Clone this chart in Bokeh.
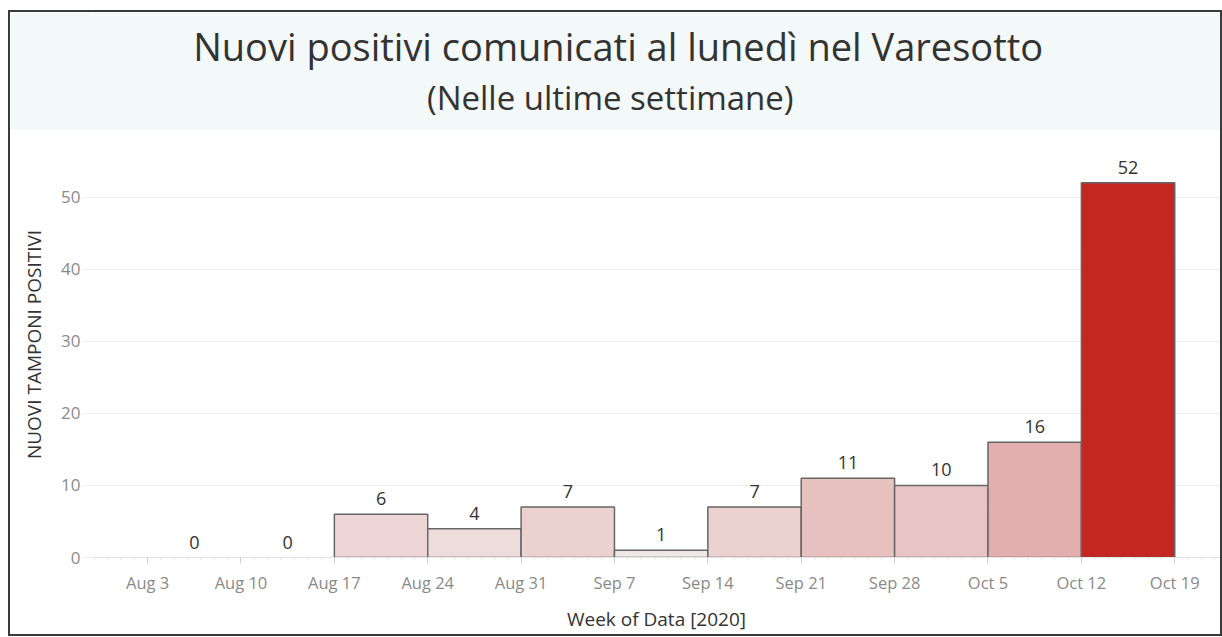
import numpy as np
from bokeh.plotting import figure
from bokeh.layouts import column
from bokeh.models import ColumnDataSource, LinearColorMapper, FixedTicker, Range1d
from bokeh.core.properties import value
from bokeh.embed import file_html
from bokeh.resources import INLINE

# ---- data ----
weeks = ["Aug 3", "Aug 10", "Aug 17", "Aug 24", "Aug 31", "Sep 7",
         "Sep 14", "Sep 21", "Sep 28", "Oct 5", "Oct 12"]
tick_labels = weeks + ["Oct 19"]
values = [0, 0, 6, 4, 7, 1, 7, 11, 10, 16, 52]

title_text = "Nuovi positivi comunicati al lunedì nel Varesotto"
subtitle_text = "(Nelle ultime settimane)"
y_title = "NUOVI TAMPONI POSITIVI"
x_title = "Week of Data [2020]"

FONT = "Open Sans"
W = 1210
LEFT = 82

# ---- colour ramp (style) ----
def hex2rgb(h):
    h = h.lstrip("#")
    return tuple(int(h[i:i + 2], 16) for i in (0, 2, 4))

lo, hi = hex2rgb("#f1ebeb"), hex2rgb("#c42622")
palette = []
for k in range(256):
    t = k / 255
    palette.append("#%02x%02x%02x" % tuple(int(round(lo[c] + (hi[c] - lo[c]) * t)) for c in range(3)))
mapper = LinearColorMapper(palette=palette, low=0, high=max(values))

# ---- title band (frame matches the chart frame: page x 92..1220) ----
tf = figure(width=W, height=118, x_range=Range1d(0, 1), y_range=Range1d(0, 1),
            output_backend="svg", toolbar_location=None,
            min_border_left=LEFT, min_border_right=0, min_border_top=0, min_border_bottom=0)
tf.axis.visible = False
tf.grid.visible = False
tf.outline_line_color = None
tf.background_fill_color = "#f3f8f8"
tf.border_fill_color = "#f3f8f8"
tf.text(x=[0.466], y=[0.72], text=[title_text], text_font=value(FONT),
        text_font_size="38px", text_color="#333333", text_align="center",
        text_baseline="middle")
tf.text(x=[0.459], y=[0.28], text=[subtitle_text], text_font=value(FONT),
        text_font_size="33px", text_color="#333333", text_align="center",
        text_baseline="middle")

# ---- main chart ----
idx = np.arange(len(values))
src = ColumnDataSource(dict(
    left=idx, right=idx + 1, top=values, mid=idx + 0.5,
    label=[str(v) for v in values],
    lalpha=[0.0 if v == 0 else 1.0 for v in values],
))

p = figure(width=W, height=504, x_range=Range1d(-0.59, 11.49), y_range=Range1d(0, 59.1),
           output_backend="svg", toolbar_location=None,
           min_border_left=LEFT, min_border_right=0, min_border_top=1, min_border_bottom=76)
p.outline_line_color = None
p.background_fill_color = "white"
p.border_fill_color = "white"

p.quad(left="left", right="right", bottom=0, top="top", source=src,
       fill_color={"field": "top", "transform": mapper},
       line_color="#666666", line_width=1.5, line_alpha="lalpha")
p.text(x="mid", y="top", text="label", source=src, text_font=value(FONT),
       text_font_size="18px", text_color="#333333", text_align="center",
       text_baseline="bottom", y_offset=-9)

# grids
p.xgrid.visible = False
p.ygrid.grid_line_color = "#efefef"
p.ygrid.grid_line_width = 1

# y axis
p.yaxis.ticker = FixedTicker(ticks=[0, 10, 20, 30, 40, 50])
p.yaxis.axis_line_color = None
p.yaxis.major_tick_out = 9
p.yaxis.major_tick_in = 0
p.yaxis.major_tick_line_color = "#eeeeee"
p.yaxis.minor_tick_line_color = None
p.yaxis.major_label_standoff = 3
p.yaxis.major_label_text_font = FONT
p.yaxis.major_label_text_font_size = "17px"
p.yaxis.major_label_text_color = "#8a8a8a"
p.yaxis.axis_label = y_title
p.yaxis.axis_label_text_font = FONT
p.yaxis.axis_label_text_font_size = "19px"
p.yaxis.axis_label_text_font_style = "normal"
p.yaxis.axis_label_text_color = "#333333"
p.yaxis.axis_label_standoff = 11

# x axis
tick_pos = list(range(len(tick_labels)))
minor = [i / 7 for i in range(-4, 7 * len(weeks) + 4) if i % 7 != 0]
p.xaxis.ticker = FixedTicker(ticks=tick_pos, minor_ticks=minor)
p.xaxis.major_label_overrides = {i: lab for i, lab in enumerate(tick_labels)}
p.xaxis.axis_line_color = "#e3e3e3"
p.xaxis.major_tick_line_color = "#cccccc"
p.xaxis.major_tick_out = 6
p.xaxis.major_tick_in = 0
p.xaxis.minor_tick_line_color = "#e6e6e6"
p.xaxis.minor_tick_out = 3
p.xaxis.minor_tick_in = 0
p.xaxis.major_label_standoff = 7
p.xaxis.major_label_text_font = FONT
p.xaxis.major_label_text_font_size = "16.5px"
p.xaxis.major_label_text_color = "#8a8a8a"
p.xaxis.axis_label = x_title
p.xaxis.axis_label_text_font = FONT
p.xaxis.axis_label_text_font_size = "19px"
p.xaxis.axis_label_text_font_style = "normal"
p.xaxis.axis_label_text_color = "#333333"
p.xaxis.axis_label_standoff = 9

layout = column(tf, p, spacing=0,
                styles={"border": "2px solid #3a3a3a", "margin": "10px 0 0 8px"})

open("out.html", "w").write(file_html(layout, INLINE))
